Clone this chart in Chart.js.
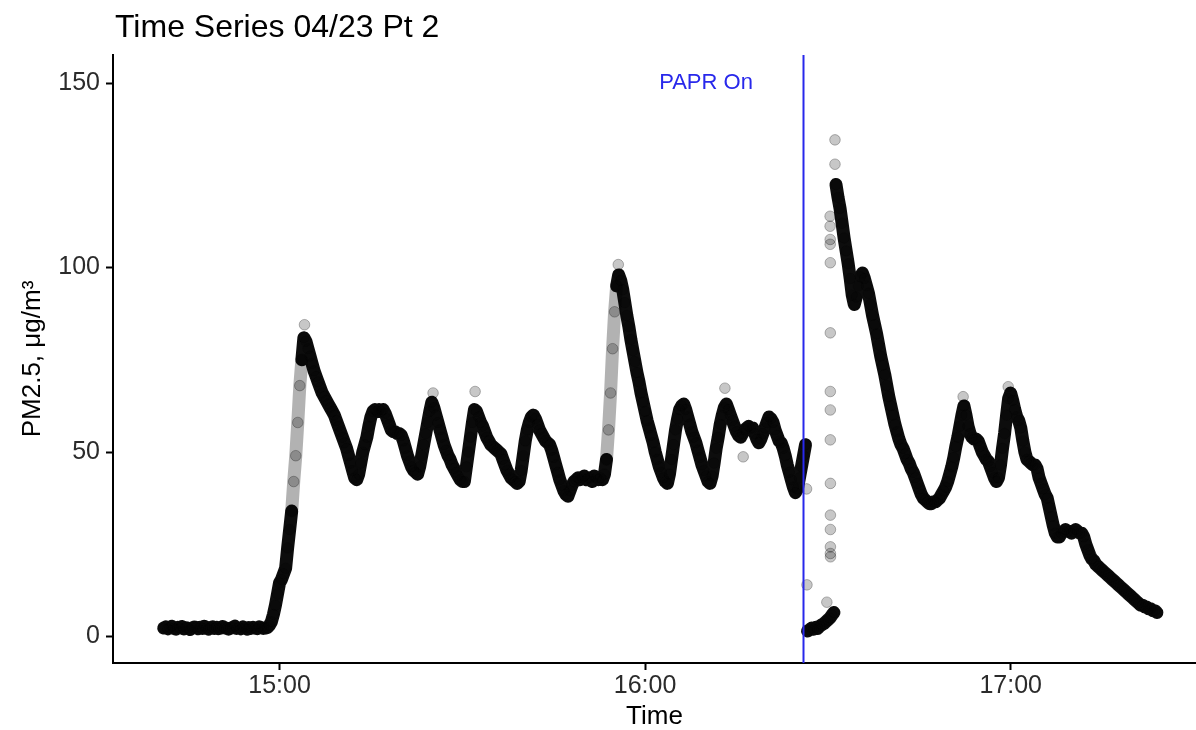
<!DOCTYPE html>
<html>
<head>
<meta charset="utf-8">
<title>Time Series 04/23 Pt 2</title>
<script src="https://cdn.jsdelivr.net/npm/chart.js@4.4.1/dist/chart.umd.min.js"></script>
<style>
  html, body { margin: 0; padding: 0; background: #fff; }
  #wrap { width: 1196px; height: 730px; }
</style>
</head>
<body>
<div id="wrap"><canvas id="pmChart" width="1196" height="730"></canvas></div>
<script>
const chartTitle = 'Time Series 04/23 Pt 2';
const xTitle = 'Time';
const yTitle = 'PM2.5, μg/m³';

const xTickLabels = ['15:00', '16:00', '17:00'];
const yTickValues = [0, 50, 100, 150];

const paprOnTime = '16:26';
const paprLabel = 'PAPR On';
const paprLabelTime = '16:10';
const paprLabelValue = 150;

// logger writes one reading every 20 s
const stepSec = 20;

// before the PAPR is switched on
const preStart = '14:41:00';
const preValues = [
  2.3, 2.6, 2.1, 2.4, 2.8, 2.2, 2.0, 2.5, 2.3, 2.7, 2.1, 2.4, 2.2, 1.9, 2.3,
  2.6, 2.4, 2.1, 2.5, 2.2, 2.8, 2.3, 2.0, 2.4, 2.6, 2.2, 2.5, 2.1, 2.3, 2.7,
  2.4, 2.2, 2.0, 2.3, 2.5, 2.8, 2.2, 2.4, 2.1, 2.6, 2.3, 2.0, 2.4, 2.2, 2.5,
  2.3, 2.1, 2.6, 2.4, 2.2, 2.3, 2.4, 3.0, 4.0, 6.0, 8.5, 11.5, 14.5, 15.5, 17,
  18.5, 24, 29, 34, 42, 49, 58, 68, 75, 81, 80, 78, 76, 74, 72,
  70.5, 69, 67.5, 66, 65, 64, 63, 62, 61, 60, 58.5, 57, 55.5, 54, 52.5,
  51, 49, 47, 45, 43, 42.5, 44, 47, 50, 52, 54, 57, 59.5, 61, 61.5,
  61, 61.5, 61, 61.5, 60.5, 59, 57.5, 56, 55.5, 55.5, 55, 55, 54.5, 53, 51,
  49, 47.5, 46, 45, 44.5, 44, 46, 49, 52, 55, 58, 61, 63.5, 62, 60,
  58, 56, 54, 52, 50.5, 49, 48, 46.5, 45.5, 44.5, 43.5, 42.5, 42, 42, 46,
  50, 54, 58, 61.5, 61, 59.5, 58, 57, 55.5, 54, 53, 52, 51.5, 51, 50.5,
  50, 49.5, 48, 46.5, 45, 44, 43, 42.5, 42, 41.5, 42, 45, 49, 53, 56,
  58, 59.5, 60, 59, 57.5, 56, 55, 54, 53, 52.5, 52, 50.5, 48.5, 46.5, 44.5,
  42.5, 41, 39.5, 38.5, 38, 39.5, 41, 42, 42.5, 43, 42.5, 43, 43.5, 42.5, 43,
  43, 42, 43.5, 43, 42.5, 43, 42.5, 44, 48, 56, 66, 78, 88, 95, 98,
  96.5, 94, 90.5, 87, 84, 80.5, 77.5, 74.5, 71.5, 69, 66, 63.5, 61, 58.5, 56.5,
  54.5, 52.5, 50, 48, 46, 44.5, 43, 42, 41.5, 44, 48, 52, 56, 59, 61.5,
  62.5, 63, 61.5, 59.5, 57.5, 55.5, 54, 52.5, 50.5, 48.5, 46.5, 45, 43.5, 42, 41.5,
  43.5, 47, 51, 54, 57.5, 60, 62, 63, 61.5, 60, 58.5, 57, 55.5, 54.5, 54,
  55, 56, 56.5, 57, 56.5, 56.5, 55, 53.5, 52.5, 53.5, 55, 56.5, 58, 59.5, 59,
  58, 56, 54.5, 53, 52.5, 51, 49, 46.5, 44.5, 42.5, 40.5, 39, 40, 43, 46,
  49, 52
];

// after the PAPR is on
const postStart = '16:26:40';
const postValues = [
  1.5, 1.8, 2.3, 2.0, 2.5, 2.2, 2.8, 3.2, 3.5, 4.0, 4.5, 5.0, 5.8, 6.5, 122.5, 119,
  116, 112, 108, 104.5, 101, 97, 92.5, 90, 92, 95, 97.5, 98.5, 97, 95, 93,
  90, 87, 84.5, 82, 79, 76, 73.5, 71, 68, 65, 62.5, 60, 57.5, 55.5, 53.5,
  52, 51, 49.5, 48, 47, 45.5, 44.5, 43, 41.5, 40, 38.5, 37.5, 37, 36.5, 36,
  36, 36.5, 36.5, 37, 37.5, 38.5, 39.5, 40.5, 42, 44, 46, 48.5, 51.5, 54, 57,
  60, 62.5, 60, 57, 55, 54, 53.5, 53.5, 53, 51.5, 50, 49, 48, 47.5, 46,
  44.5, 43, 42, 43, 46.5, 51, 55, 60, 64.5, 66, 64, 61.5, 59.5, 58.5, 56.5,
  53, 50, 48, 47.5, 47, 46.5, 46.5, 45.5, 43, 41.5, 40, 38.5, 37.5, 35, 32.5,
  30, 28, 27, 27, 28, 28.5, 29, 28.5, 28.5, 28, 28.5, 29, 28.5, 28, 28,
  27, 25, 23.5, 22, 21, 20.5, 19.5, 19, 18.5, 18, 17.5, 17, 16.5, 16, 15.5,
  15, 14.5, 14, 13.5, 13, 12.5, 12, 11.5, 11, 10.5, 10, 9.5, 9, 8.5, 8.5,
  8, 8, 7.5, 7.5, 7, 7, 6.5
];

// stray readings: spikes off the trace and the jump while the sensor settles
const strayTimes = [
  '15:04:06', '15:25:12', '15:32:06', '15:55:36', '16:13:06', '16:16:06',
  '16:26:30', '16:26:34', '16:29:50',
  '16:30:22', '16:30:22', '16:30:23', '16:30:23', '16:30:24', '16:30:24', '16:30:24',
  '16:30:24', '16:30:24', '16:30:25', '16:30:25', '16:30:25', '16:30:25', '16:30:25', '16:30:26',
  '16:31:10', '16:31:10',
  '16:52:12', '16:59:36'
];
const strayValues = [
  84.5, 66, 66.4, 100.8, 67.3, 48.7,
  40, 14, 9.3,
  113.9, 111.2, 107.6, 106.3, 101.3, 82.3, 66.4,
  61.4, 53.3, 41.5, 32.9, 29, 24.3, 22.5, 21.6,
  134.6, 128,
  65, 67.7
];

const fontFamily = '"Liberation Sans", Arial, Helvetica, sans-serif';
const paprColor = 'rgb(40, 40, 235)';

function toMinutes(clock) {
  const [h, m, s = 0] = clock.split(':').map(Number);
  return h * 60 + m + s / 60;
}

function clockLabel(minutes) {
  const h = Math.floor(minutes / 60);
  const m = Math.round(minutes - h * 60);
  return `${h}:${String(m).padStart(2, '0')}`;
}

function series(start, values) {
  return values.map((v, i) => ({ x: toMinutes(start) + i * stepSec / 60, y: v }));
}

const prePoints = series(preStart, preValues);
const postPoints = series(postStart, postValues);
const strayPoints = strayValues.map((v, i) => ({ x: toMinutes(strayTimes[i]), y: v }));
const allPoints = [...prePoints, ...strayPoints, ...postPoints];

// readings overlap into a solid trace; fast rises thin out, the jump stays as dots
function traceColor(ctx) {
  const rise = Math.abs(ctx.p1.parsed.y - ctx.p0.parsed.y);
  if (rise > 40) return 'rgba(0, 0, 0, 0)';
  if (rise > 6.5) return 'rgba(0, 0, 0, 0.3)';
  return 'rgba(0, 0, 0, 0.95)';
}

function traceDataset(data) {
  return {
    data,
    showLine: true,
    borderWidth: 13,
    borderColor: 'rgba(0, 0, 0, 0.95)',
    borderCapStyle: 'round',
    borderJoinStyle: 'round',
    pointRadius: 0,
    pointHoverRadius: 0,
    segment: { borderColor: traceColor },
    order: 2
  };
}

// vertical marker, its label and the top-left title
const overlay = {
  id: 'overlay',
  afterDatasetsDraw(chart) {
    const { ctx, chartArea, scales: { x, y } } = chart;
    const px = x.getPixelForValue(toMinutes(paprOnTime));
    ctx.save();
    ctx.strokeStyle = paprColor;
    ctx.lineWidth = 2;
    ctx.beginPath();
    ctx.moveTo(px, chartArea.top);
    ctx.lineTo(px, chartArea.bottom);
    ctx.stroke();

    ctx.fillStyle = paprColor;
    ctx.font = `22px ${fontFamily}`;
    ctx.textAlign = 'center';
    ctx.textBaseline = 'middle';
    ctx.fillText(paprLabel, x.getPixelForValue(toMinutes(paprLabelTime)), y.getPixelForValue(paprLabelValue));
    ctx.restore();
  },
  afterDraw(chart) {
    const { ctx, chartArea } = chart;
    ctx.save();
    ctx.fillStyle = '#000';
    ctx.font = `32px ${fontFamily}`;
    ctx.textAlign = 'left';
    ctx.textBaseline = 'alphabetic';
    ctx.fillText(chartTitle, chartArea.left + 2, 37);
    ctx.restore();
  }
};

new Chart(document.getElementById('pmChart'), {
  type: 'scatter',
  data: {
    datasets: [
      traceDataset(prePoints),
      traceDataset(postPoints),
      {
        data: allPoints,
        pointRadius: 5.3,
        pointHoverRadius: 5.3,
        pointBackgroundColor: 'rgba(0, 0, 0, 0.22)',
        pointBorderColor: 'rgba(0, 0, 0, 0.28)',
        pointBorderWidth: 1,
        order: 1
      }
    ]
  },
  options: {
    responsive: false,
    animation: false,
    devicePixelRatio: 1,
    layout: { autoPadding: false, padding: { top: 55, right: 0, bottom: 0, left: 0 } },
    plugins: {
      legend: { display: false },
      tooltip: { enabled: false }
    },
    scales: {
      x: {
        type: 'linear',
        min: 872.67,
        max: 1050.42,
        afterFit: scale => {
          scale.height = 67;
          scale.paddingLeft = 0;
          scale.paddingRight = 0;
        },
        afterBuildTicks: scale => {
          scale.ticks = xTickLabels.map(t => ({ value: toMinutes(t) }));
        },
        ticks: {
          callback: v => clockLabel(v),
          font: { family: fontFamily, size: 25 },
          color: '#2b2b2b',
          padding: 1,
          maxRotation: 0
        },
        grid: { drawOnChartArea: false, drawTicks: true, tickLength: 7, tickColor: '#000', tickWidth: 2 },
        border: { display: true, color: '#000', width: 2 },
        title: {
          display: true,
          text: xTitle,
          color: '#000',
          font: { family: fontFamily, size: 26, lineHeight: 1 },
          padding: { top: 0, bottom: 0 }
        }
      },
      y: {
        min: -7.18,
        max: 157.6,
        afterFit: scale => {
          scale.width = 113;
          scale.paddingTop = 0;
          scale.paddingBottom = 0;
        },
        afterBuildTicks: scale => {
          scale.ticks = yTickValues.map(v => ({ value: v }));
        },
        ticks: {
          font: { family: fontFamily, size: 25 },
          color: '#2b2b2b',
          padding: 6
        },
        grid: { drawOnChartArea: false, drawTicks: true, tickLength: 7, tickColor: '#000', tickWidth: 2 },
        border: { display: true, color: '#000', width: 2 },
        title: {
          display: true,
          text: yTitle,
          color: '#000',
          font: { family: fontFamily, size: 26 },
          padding: { top: 17, bottom: 0 }
        }
      }
    }
  },
  plugins: [overlay]
});
</script>
</body>
</html>
